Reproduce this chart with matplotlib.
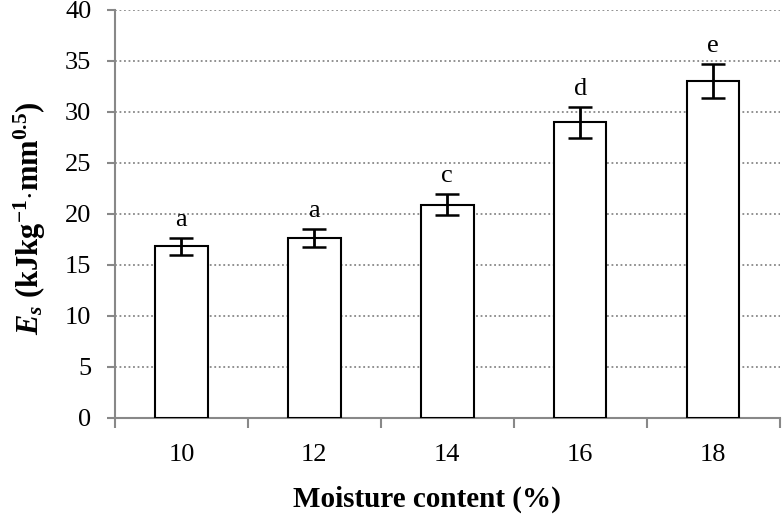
import matplotlib
matplotlib.use("Agg")
import matplotlib.pyplot as plt
import numpy as np

categories = ["10", "12", "14", "16", "18"]
values = [16.8, 17.6, 20.9, 28.95, 33.0]
errors = [0.8, 0.9, 1.05, 1.5, 1.7]
letters = ["a", "a", "c", "d", "e"]
y_ticks = [0, 5, 10, 15, 20, 25, 30, 35, 40]

plt.rcParams['font.family'] = ['Liberation Serif', 'DejaVu Serif']
plt.rcParams['mathtext.fontset'] = 'custom'
plt.rcParams['mathtext.rm'] = 'Liberation Serif:bold'
plt.rcParams['mathtext.bf'] = 'Liberation Serif:bold'
plt.rcParams['mathtext.it'] = 'Liberation Serif:italic:bold'
plt.rcParams['mathtext.bfit'] = 'Liberation Serif:italic:bold'

fig = plt.figure(figsize=(7.82, 5.25), dpi=100)
ax = fig.add_axes([0.147, 0.204, 0.850, 0.7775])

x = np.arange(len(categories))
ax.bar(x, values, width=0.395, color='white', edgecolor='black', linewidth=1.5, zorder=3)
ax.errorbar(x, values, yerr=errors, fmt='none', ecolor='black', elinewidth=2,
            capsize=8.5, capthick=1.8, zorder=4)

for xi, v, e, t in zip(x, values, errors, letters):
    ax.annotate(t, (xi, v + e), xytext=(0, 5), textcoords='offset points',
                ha='center', va='bottom', fontsize=19)

ax.set_xlim(-0.5, len(categories) - 0.5)
ax.set_ylim(0, 40)
ax.set_yticks(y_ticks)
ax.set_xticks(x)
ax.set_xticklabels(categories)
ax.set_xticks(np.arange(-0.5, len(categories)), minor=True)
ax.tick_params(axis='x', which='major', length=0, pad=19, labelsize=19)
ax.tick_params(axis='x', which='minor', length=7, width=1.5, color='#888888', direction='out')
ax.tick_params(axis='y', length=6, width=1.5, color='#888888', pad=11, labelsize=19)

ax.yaxis.grid(True, linestyle=(0, (1, 1.5)), color='#888888', linewidth=1.3, zorder=0)
ax.set_axisbelow(True)
for s in ['top', 'right']:
    ax.spines[s].set_visible(False)
for s in ['left', 'bottom']:
    ax.spines[s].set_color('#888888')
    ax.spines[s].set_linewidth(1.5)

ax.set_xlabel('Moisture content (%)', fontsize=21, fontweight='bold')
ax.xaxis.set_label_coords(0.47, -0.2, transform=ax.transAxes)
ax.xaxis.label.set_va('center')
ax.set_ylabel(r'$\mathit{E}_{\mathit{s}}$ (kJkg$^{-1}$$\cdot$mm$^{0.5}$)', fontsize=22,
              fontweight='bold')
ax.yaxis.set_label_coords(-0.128, 0.49, transform=ax.transAxes)
ax.yaxis.label.set_va('center')

fig.savefig('out.png', dpi=100)
